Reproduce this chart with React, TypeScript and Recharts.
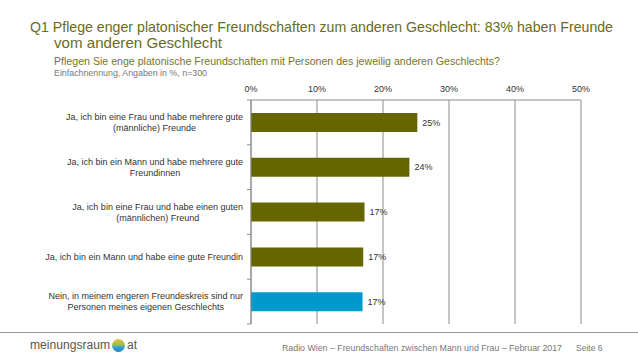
import { BarChart, Bar, XAxis, YAxis, CartesianGrid, Cell, LabelList } from 'recharts'

// Antwortkategorien (Zeilenumbruch wie im Original)
const categories = [
  'Ja, ich bin eine Frau und habe mehrere gute\n(männliche) Freunde',
  'Ja, ich bin ein Mann und habe mehrere gute\nFreundinnen',
  'Ja, ich bin eine Frau und habe einen guten\n(männlichen) Freund',
  'Ja, ich bin ein Mann und habe eine gute Freundin',
  'Nein, in meinem engeren Freundeskreis sind nur\nPersonen meines eigenen Geschlechts',
]
const shares = [25.2, 24.0, 17.2, 17.0, 16.9]
const xTicks = [0, 10, 20, 30, 40, 50]

const data = categories.map((name, i) => ({ name, value: shares[i] }))

const W = 638
const H = 359
const MARGIN = { top: 80, right: 57, left: 0, bottom: 35 }
const X_AXIS_H = 20
const PLOT_H = H - MARGIN.top - MARGIN.bottom - X_AXIS_H
const BAND = PLOT_H / categories.length

const OLIVE = '#666600'
const BLUE = '#0099cc'
const GRID = '#8c8c8c'
const FONT = "'Liberation Sans', Arial, sans-serif"
const LABEL_SIZE = 9
const LINE_H = 11

let ctx: CanvasRenderingContext2D | null = null
function measure(s: string) {
  if (!ctx) ctx = document.createElement('canvas').getContext('2d')
  if (!ctx) return s.length * 4.3
  ctx.font = `${LABEL_SIZE}px ${FONT}`
  return ctx.measureText(s).width
}

// category label: block right-aligned, lines centred on each other; tick marks between bands
function CategoryTick(props: any) {
  const { x, y, payload, index } = props
  const lines = String(payload.value).split('\n')
  const widest = Math.max(...lines.map(measure))
  const cx = x - widest / 2
  const y0 = y - ((lines.length - 1) * LINE_H) / 2
  const axisX = x + 8
  return (
    <g>
      <line x1={axisX} x2={axisX - 4} y1={y - BAND / 2} y2={y - BAND / 2} stroke={GRID} />
      {index === categories.length - 1 && (
        <line x1={axisX} x2={axisX - 4} y1={y + BAND / 2} y2={y + BAND / 2} stroke={GRID} />
      )}
      <text textAnchor="middle" fontSize={LABEL_SIZE} fill="#333" fontFamily={FONT}>
        {lines.map((l, i) => (
          <tspan key={i} x={cx} y={y0 + i * LINE_H} dy="0.35em">
            {l}
          </tspan>
        ))}
      </text>
    </g>
  )
}

export default function App() {
  return (
    <div style={{ position: 'absolute', left: 0, top: 0, width: W, height: H, background: '#fff', fontFamily: FONT }}>
      <svg width={W} height={H} style={{ position: 'absolute', left: 0, top: 0 }}>
        <defs>
          <linearGradient id="globe" x1="0" y1="0" x2="0" y2="1">
            <stop offset="0%" stopColor="#e8c23a" />
            <stop offset="45%" stopColor="#9cc04a" />
            <stop offset="60%" stopColor="#3aa6d8" />
            <stop offset="100%" stopColor="#1f7fc0" />
          </linearGradient>
        </defs>
        <text x={30} y={32} fontSize={14.5} fill="#6b6b22" textLength={583} lengthAdjust="spacingAndGlyphs">
          Q1 Pflege enger platonischer Freundschaften zum anderen Geschlecht: 83% haben Freunde
        </text>
        <text x={54} y={48} fontSize={14.5} fill="#6b6b22" textLength={168} lengthAdjust="spacingAndGlyphs">
          vom anderen Geschlecht
        </text>
        <text x={54} y={65} fontSize={10.5} fill="#74742c" textLength={446} lengthAdjust="spacingAndGlyphs">
          Pflegen Sie enge platonische Freundschaften mit Personen des jeweilig anderen Geschlechts?
        </text>
        <text x={54} y={76} fontSize={8.5} fill="#777" textLength={153} lengthAdjust="spacingAndGlyphs">
          Einfachnennung, Angaben in %, n=300
        </text>
        <line x1={0} x2={W} y1={332.5} y2={332.5} stroke="#9a9a9a" />
        <text x={30} y={349} fontSize={12} fill="#555" textLength={80} lengthAdjust="spacingAndGlyphs">
          meinungsraum
        </text>
        <circle cx={118.5} cy={345.5} r={6.5} fill="url(#globe)" />
        <text x={127} y={349} fontSize={12} fill="#555">
          at
        </text>
        <text x={282} y={351} fontSize={8.5} fill="#777" textLength={280} lengthAdjust="spacingAndGlyphs">
          Radio Wien – Freundschaften zwischen Mann und Frau – Februar 2017
        </text>
        <text x={576} y={351} fontSize={8.5} fill="#777">
          Seite 6
        </text>
      </svg>
      <div style={{ position: 'absolute', left: 0, top: 0 }}>
        <BarChart width={W} height={H} data={data} layout="vertical" margin={MARGIN}>
          <CartesianGrid horizontal={false} stroke={GRID} />
          <XAxis
            type="number"
            orientation="top"
            domain={[0, 50]}
            ticks={xTicks}
            tickFormatter={(v) => `${v}%`}
            height={X_AXIS_H}
            tickLine={false}
            axisLine={{ stroke: GRID }}
            tick={{ fontSize: 9, fill: '#333', fontFamily: FONT }}
            interval={0}
          />
          <YAxis
            type="category"
            dataKey="name"
            width={251}
            axisLine={{ stroke: GRID }}
            tickLine={false}
            tick={<CategoryTick />}
            interval={0}
          />
          <Bar dataKey="value" barSize={19} isAnimationActive={false}>
            {data.map((_, i) => (
              <Cell key={i} fill={i === data.length - 1 ? BLUE : OLIVE} />
            ))}
            <LabelList
              dataKey="value"
              position="right"
              offset={5}
              formatter={(v: any) => `${Math.round(Number(v))}%`}
              style={{ fontSize: 9, fill: '#333', fontFamily: FONT }}
            />
          </Bar>
        </BarChart>
      </div>
    </div>
  )
}
